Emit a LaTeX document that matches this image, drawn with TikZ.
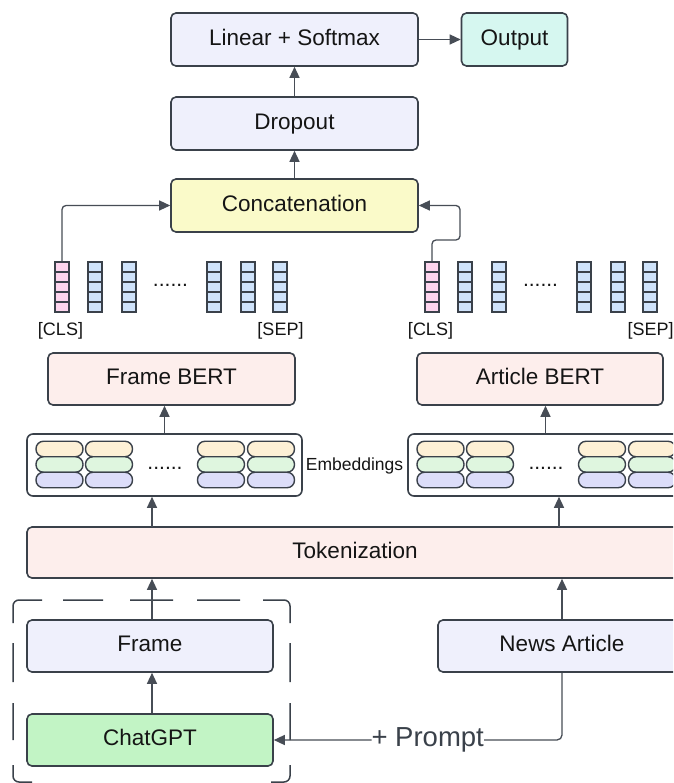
\documentclass[tikz,border=0pt]{standalone}
\usepackage{fontspec}
\setmainfont{Liberation Sans}
\usetikzlibrary{arrows.meta}

\definecolor{bordc}{HTML}{3A414A}
\definecolor{arrc}{HTML}{474D56}
\definecolor{txt}{HTML}{151515}
\definecolor{lav}{HTML}{EFF0FC}
\definecolor{mint}{HTML}{D6F7F0}
\definecolor{lemon}{HTML}{FAFAC9}
\definecolor{blush}{HTML}{FDEEEC}
\definecolor{leaf}{HTML}{C2F4C5}
\definecolor{cellpink}{HTML}{FDD5EE}
\definecolor{cellblue}{HTML}{CFE3FB}
\definecolor{pillyel}{HTML}{FDF0D6}
\definecolor{pillgrn}{HTML}{DFF6DF}
\definecolor{pillblu}{HTML}{DCDDF9}

\tikzset{
  box/.style={draw=bordc, line width=1.6pt, rounded corners=5pt, inner sep=0pt,
    minimum height=53pt, text=txt, font=\fontsize{22.5}{25}\selectfont,
    text height=16.5pt, text depth=5.4pt},
  embbox/.style={draw=bordc, line width=1.6pt, rounded corners=6pt, fill=white,
    minimum width=275pt, minimum height=62pt, inner sep=0pt},
  cell/.style={draw=bordc, line width=1.5pt, minimum width=14pt, minimum height=10pt, inner sep=0pt},
  pill/.style={draw=bordc, line width=1.4pt, rounded corners=7.5pt,
    minimum width=47pt, minimum height=15.5pt, inner sep=0pt},
  arr/.style={draw=arrc, line width=1.3pt, -{Triangle[length=11pt,width=10pt]}},
  dotsl/.style={text=txt, font=\fontsize{21}{24}\selectfont, inner sep=0pt, anchor=base},
  tag/.style={text=txt, font=\fontsize{18}{20}\selectfont, inner sep=0pt},
  dashframe/.style={draw=bordc, line width=1.5pt, rounded corners=6pt},
}

\begin{document}
\begin{tikzpicture}[x=1pt, y=-1pt]
\clip (0,0) rectangle (673,783);
\fill[white] (0,0) rectangle (673,783);

% classifier head
\node[box, fill=lav, minimum width=247pt] (lin) at (294.5,39.5) {Linear + Softmax};
\node[box, fill=mint, minimum width=106pt] (out) at (514.5,39.5) {Output};
\node[box, fill=lav, minimum width=247pt] (drop) at (294.5,123.5) {Dropout};
\node[box, fill=lemon, minimum width=247pt] (concat) at (294.5,205.5) {Concatenation};

\draw[arr] (lin.east) -- (out.west);
\draw[arr] (drop.north) -- (lin.south);
\draw[arr] (concat.north) -- (drop.south);

% output token vectors of both encoders
\foreach \side/\off in {L/0, R/370} {
  \foreach \v/\cx in {1/62, 2/95, 3/129, 4/214, 5/248, 6/280} {
    \foreach \k in {0,...,4} {
      \ifnum\v=1
        \node[cell, fill=cellpink] (v\side-\v-\k) at (\cx+\off, 267+10*\k) {};
      \else
        \node[cell, fill=cellblue] (v\side-\v-\k) at (\cx+\off, 267+10*\k) {};
      \fi
    }
  }
  \node[dotsl] (vd\side) at (170.5+\off, 286) {......};
  \node[tag] (cls\side) at (60.5+\off, 331) {[CLS]};
  \node[tag] (sep\side) at (280.5+\off, 331) {[SEP]};
}

\coordinate (jr1) at (432,240);
\coordinate (jr2) at (460,240);
\draw[arr, rounded corners=4pt] (vL-1-0.north) |- (concat.west);
\draw[arr, rounded corners=4pt] (vR-1-0.north) -- (jr1) -- (jr2) |- (concat.east);

% encoders
\node[box, fill=blush, minimum width=247pt, minimum height=52pt] (fbert) at (171.5,379) {Frame BERT};
\node[box, fill=blush, minimum width=246pt, minimum height=52pt] (abert) at (540,379) {Article BERT};

% embedding blocks
\foreach \side/\off in {L/0, R/381} {
  \node[embbox] (emb\side) at (164.5+\off, 465) {};
  \foreach \c/\px in {1/59.5, 2/109, 3/221, 4/271} {
    \node[pill, fill=pillyel] (py\side\c) at (\px+\off, 449) {};
    \node[pill, fill=pillgrn] (pg\side\c) at (\px+\off, 464.5) {};
    \node[pill, fill=pillblu] (pb\side\c) at (\px+\off, 480) {};
  }
  \node[dotsl] (ed\side) at (165+\off, 469) {......};
}
\node[tag, font=\fontsize{17.5}{19}\selectfont] (emblab) at (354.5,465.5) {Embeddings};

\draw[arr] (embL.north) -- (embL.north |- fbert.south);
\draw[arr] (embR.north) -- (embR.north |- abert.south);

% tokenizer
\node[box, fill=blush, minimum width=656pt, minimum height=51pt] (tok) at (355,552.5) {Tokenization};
\coordinate (tkl) at (152,527);
\coordinate (tkr) at (559,527);
\draw[arr] (tkl) -- (tkl |- embL.south);
\draw[arr] (tkr) -- (tkr |- embR.south);

% dashed frame grouping the generated frame, drawn dash by dash
\draw[dashframe]
  (13,623) -- (13,600) -- (42,600)
  (63,600) -- (103,600)
  (130,600) -- (173,600)
  (197,600) -- (240,600)
  (263,600) -- (290,600) -- (290,623)
  (13,643) -- (13,682)  (290,643) -- (290,682)
  (13,703) -- (13,740)  (290,703) -- (290,740)
  (13,765) -- (13,782) -- (32,782)
  (290,765) -- (290,782) -- (271,782);

% inputs
\node[box, fill=lav, minimum width=246pt, minimum height=52pt] (frame) at (150,646) {Frame};
\node[box, fill=leaf, minimum width=246pt, minimum height=52pt] (chat) at (150,740) {ChatGPT};
\node[box, fill=lav, minimum width=248pt, minimum height=52pt] (news) at (562,646) {News Article};

\draw[arr] ([xshift=2pt]frame.north) -- ([xshift=2pt]frame.north |- tok.south);
\draw[arr] ([xshift=2pt]chat.north) -- ([xshift=2pt]frame.south);
\draw[arr] (news.north) -- (news.north |- tok.south);
\draw[arr, rounded corners=5pt] (news.south) |- (chat.east)
  node[pos=0.733, fill=white, inner sep=0pt, text=bordc, font=\fontsize{27.5}{30}\selectfont] (prompt) {+ Prompt};
\end{tikzpicture}
\end{document}
